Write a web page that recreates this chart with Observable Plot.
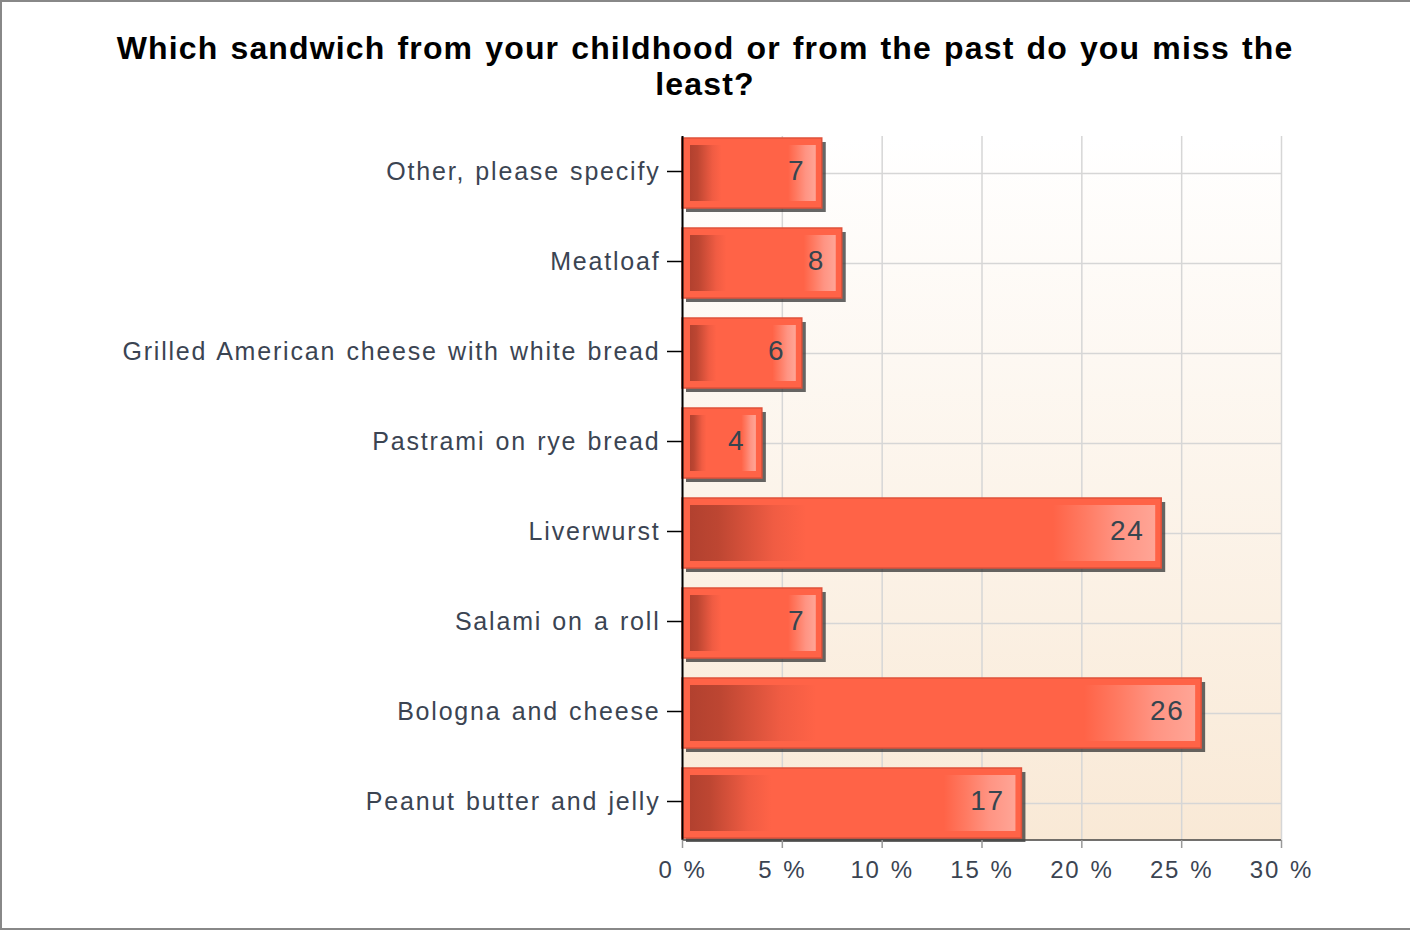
<!DOCTYPE html>
<html><head><meta charset="utf-8">
<script src="https://cdn.jsdelivr.net/npm/d3@7"></script>
<script src="https://cdn.jsdelivr.net/npm/@observablehq/plot@0.6"></script>
<style>
body{margin:0;background:#fff}
#wrap{position:relative;width:1410px;height:930px;overflow:hidden;font-family:"Liberation Sans",Arial,sans-serif;background:#fff}
#border{position:absolute;left:0;top:0;width:1420px;height:926px;border:2px solid #888;box-sizing:content-box}
#title{position:absolute;left:0;top:30px;width:1410px;text-align:center;font-weight:bold;font-size:32px;line-height:36px;color:#000;letter-spacing:1.15px;word-spacing:2px}
#chart{position:absolute;left:0;top:0}
g[aria-label="shadow"] rect{filter:blur(2.5px)}
</style></head>
<body>
<div id="wrap">
<div id="border"></div>
<div id="title">Which sandwich from your childhood or from the past do you miss the<br>least?</div>
<div id="chart"></div>
</div>
<script>
const categories = ["Other, please specify","Meatloaf","Grilled American cheese with white bread","Pastrami on rye bread","Liverwurst","Salami on a roll","Bologna and cheese","Peanut butter and jelly"];
const percents = [7,8,6,4,24,7,26,17];
const xTicks = [0,5,10,15,20,25,30];

const data = categories.map((c,i)=>({c, v: percents[i]}));

function defs(){
  const g = d3.create("svg:g");
  const d = g.append("defs");
  const bg = d.append("linearGradient").attr("id","bgGrad").attr("x1",0).attr("y1",0).attr("x2",0).attr("y2",1);
  bg.append("stop").attr("offset",0).attr("stop-color","#ffffff");
  bg.append("stop").attr("offset",1).attr("stop-color","#f9e9d6");
  const bar = d.append("linearGradient").attr("id","barGrad").attr("x1",0).attr("y1",0).attr("x2",1).attr("y2",0);
  [[0,"#b2412f"],[0.06,"#bd4632"],[0.18,"#f05c43"],[0.25,"#ff6347"],[0.78,"#ff6347"],[0.85,"#ff7b63"],[0.92,"#ff9483"],[1,"#ffa596"]]
    .forEach(([o,c])=>bar.append("stop").attr("offset",o).attr("stop-color",c));
  return g.node();
}
function bottomLine(index, scales, values, dim){
  const y = dim.height - dim.marginBottom;
  return d3.create("svg:line")
    .attr("x1", dim.marginLeft).attr("x2", dim.width - dim.marginRight)
    .attr("y1", y).attr("y2", y).attr("stroke","#444").attr("stroke-width",1.5).node();
}

const chart = Plot.plot({
  width:1410, height:930,
  marginLeft:682, marginRight:129, marginTop:136, marginBottom:90,
  style:{fontFamily:'"Liberation Sans",Arial,sans-serif', color:"#3b4452", background:"transparent", letterSpacing:"1.8px", wordSpacing:"1.5px"},
  x:{domain:[0,30], axis:null},
  y:{domain:categories, paddingInner:0.225, paddingOuter:0, axis:null},
  marks:[
    defs,
    Plot.frame({fill:"url(#bgGrad)", stroke:null}),
    Plot.gridX(xTicks,{stroke:"#d6d6d6", strokeOpacity:1, strokeWidth:1.5}),
    Plot.gridY({stroke:"#d6d6d6", strokeOpacity:1, strokeWidth:1.5}),
    Plot.barX(data,{x:"v", y:"c", fill:"#333", fillOpacity:0.75, dx:4, dy:4, ariaLabel:"shadow"}),
    Plot.barX(data,{x:"v", y:"c", fill:"#ff6347", stroke:"#e0513a", strokeWidth:1.5}),
    Plot.barX(data,{x:"v", y:"c", fill:"url(#barGrad)", insetLeft:8, insetRight:6, insetTop:7, insetBottom:7}),
    Plot.text(data,{x:"v", y:"c", text:d=>String(d.v), textAnchor:"end", dx:-17, dy:-2, fontSize:28, fill:"#36454f", style:{letterSpacing:"1px"}}),
    Plot.ruleX([0],{stroke:"#000", strokeWidth:2}),
    bottomLine,
    Plot.axisY({label:null, tickSize:15, tickPadding:7, fontSize:25, stroke:"#000", strokeWidth:1.5, fill:"#3b4452", dy:-2}),
    Plot.axisX(xTicks,{label:null, tickSize:8, tickPadding:12, fontSize:24, stroke:"#999", strokeWidth:1.5, fill:"#3b4452", tickFormat:d=>d+" %"})
  ]
});
document.getElementById("chart").append(chart);
</script>
</body></html>
